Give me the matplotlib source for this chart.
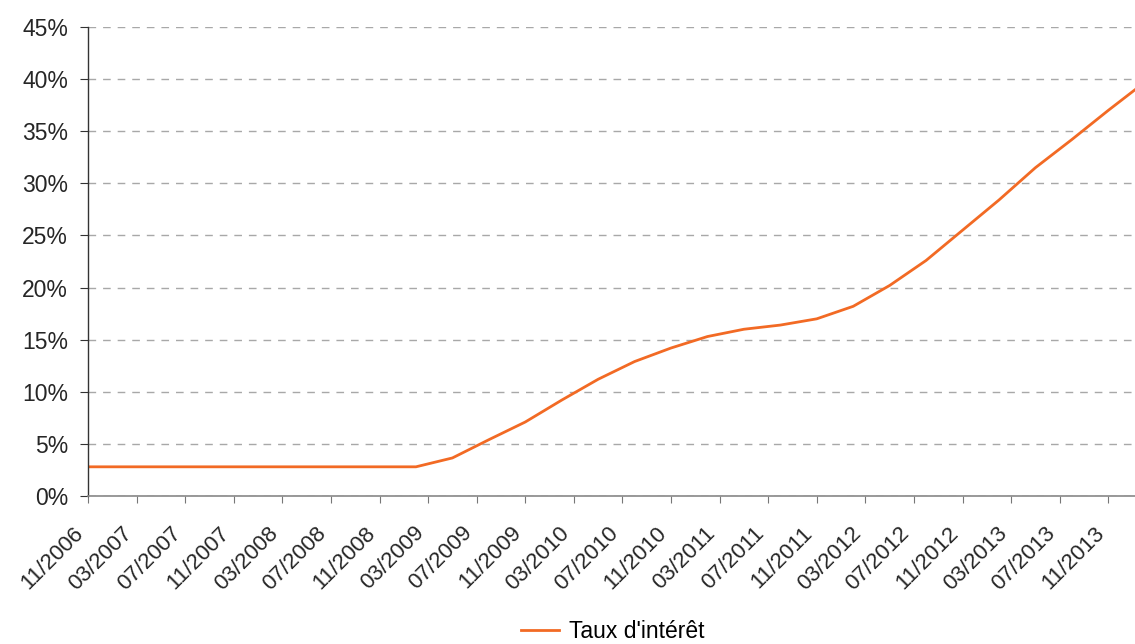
import matplotlib
matplotlib.use("Agg")
import matplotlib.pyplot as plt
import matplotlib.transforms as mtransforms

plt.rcParams['font.family'] = ['Liberation Sans', 'DejaVu Sans']

# quarterly points, months counted from 11/2006
months = list(range(0, 90, 3))
taux = [2.8, 2.8, 2.8, 2.8, 2.8, 2.8, 2.8, 2.8, 2.8, 2.8,
        3.65, 5.4, 7.1, 9.2, 11.2, 12.9, 14.2, 15.3, 16.0, 16.4,
        17.0, 18.2, 20.2, 22.6, 25.5, 28.4, 31.5, 34.2, 37.0, 39.7]

tick_labels = ['11/2006', '03/2007', '07/2007', '11/2007', '03/2008', '07/2008',
               '11/2008', '03/2009', '07/2009', '11/2009', '03/2010', '07/2010',
               '11/2010', '03/2011', '07/2011', '11/2011', '03/2012', '07/2012',
               '11/2012', '03/2013', '07/2013', '11/2013']
tick_pos = [4 * i for i in range(len(tick_labels))]
y_ticks = list(range(0, 50, 5))

fig = plt.figure(figsize=(11.35, 6.44), dpi=100)
ax = fig.add_axes([88 / 1135, 148 / 644, 1 - 88 / 1135, 469 / 644])

ax.plot(months, taux, color='#F26A24', lw=2.0, label="Taux d'intérêt",
        solid_joinstyle='miter')

ax.set_xlim(0, 86.2)
ax.set_ylim(0, 45)
ax.set_yticks(y_ticks)
ax.set_yticklabels([f'{v}%' for v in y_ticks], fontsize=16.5, color='#262626')
ax.set_xticks(tick_pos)
ax.set_xticklabels(tick_labels, rotation=45, ha='right', va='top',
                   fontsize=16, color='#262626')
# shift the rotated date labels a little to the left of their ticks
offset = mtransforms.ScaledTranslation(-11 / 100, 0, fig.dpi_scale_trans)
for lab in ax.get_xticklabels():
    lab.set_transform(lab.get_transform() + offset)

ax.yaxis.grid(True, color='#A8A8A8', linestyle=(0, (5.5, 5)), lw=1.0)
ax.set_axisbelow(True)
for side in ('top', 'right'):
    ax.spines[side].set_visible(False)
ax.spines['left'].set_color('#333333')
ax.spines['bottom'].set_color('#888888')
ax.spines['left'].set_linewidth(1.0)
ax.spines['bottom'].set_linewidth(1.2)
ax.tick_params(axis='y', length=5.8, color='#333333', pad=8.5)
ax.tick_params(axis='x', length=5, color='#777777', pad=14)

fig.legend(loc='center', bbox_to_anchor=(613 / 1135, 1 - 632 / 644),
           frameon=False, fontsize=16.5, handlelength=1.65, handletextpad=0.45)

fig.savefig('out.png', dpi=100)
